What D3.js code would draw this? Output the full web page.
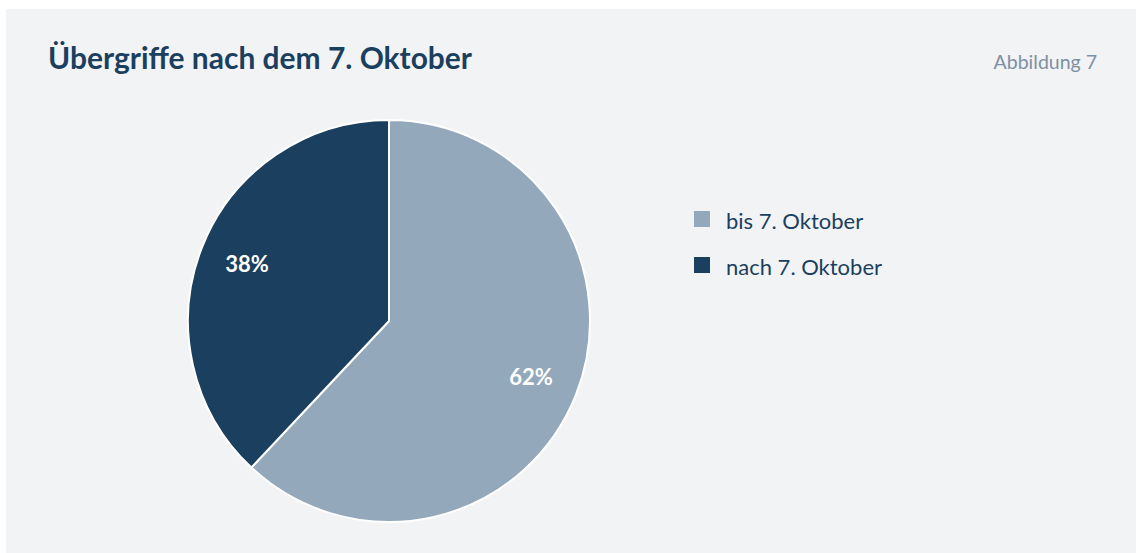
<!DOCTYPE html>
<html>
<head>
<meta charset="utf-8">
<script src="https://cdn.jsdelivr.net/npm/d3@7"></script>
<style>
  html, body { margin: 0; padding: 0; background: #ffffff; }
  svg { display: block; }
  text { font-family: "Source Sans Pro", Lato, "Noto Sans", sans-serif; }
</style>
</head>
<body>
<div id="chart"></div>
<script>
// data
const categories = ['bis 7. Oktober', 'nach 7. Oktober'];
const shares = [62, 38];
const colours = ['#93a8bb', '#1b3f5e'];

const title = 'Übergriffe nach dem 7. Oktober';
const figureLabel = 'Abbildung 7';

const width = 1136, height = 553;

const svg = d3.select('#chart').append('svg')
    .attr('width', width)
    .attr('height', height);

// panel background
svg.append('rect')
    .attr('x', 6).attr('y', 9)
    .attr('width', width - 6).attr('height', height - 9)
    .attr('fill', '#f2f3f5');

svg.append('text')
    .attr('x', 48).attr('y', 69)
    .attr('fill', '#1b3f5e')
    .attr('font-size', 30)
    .attr('font-weight', 700)
    .attr('textLength', 424)
    .attr('lengthAdjust', 'spacingAndGlyphs')
    .text(title);

svg.append('text')
    .attr('x', 1097).attr('y', 69)
    .attr('text-anchor', 'end')
    .attr('fill', '#7d90a3')
    .attr('font-size', 19.5)
    .text(figureLabel);

// pie
const cx = 389, cy = 321, radius = 201;
const data = categories.map((c, i) => ({ key: c, value: shares[i] }));

const colour = d3.scaleOrdinal().domain(categories).range(colours);

const pie = d3.pie().sort(null).value(d => d.value);
const arc = d3.arc().innerRadius(0).outerRadius(radius);
const labelArc = d3.arc().innerRadius(radius * 0.76).outerRadius(radius * 0.76);

const pieG = svg.append('g')
    .attr('transform', `translate(${cx},${cy})`);

const arcs = pie(data);

pieG.selectAll('path')
    .data(arcs)
    .join('path')
    .attr('d', arc)
    .attr('fill', d => colour(d.data.key))
    .attr('stroke', '#ffffff')
    .attr('stroke-width', 2)
    .attr('stroke-linejoin', 'round');

pieG.selectAll('.slice-label')
    .data(arcs)
    .join('text')
    .attr('class', 'slice-label')
    .attr('transform', d => `translate(${labelArc.centroid(d)})`)
    .attr('text-anchor', 'middle')
    .attr('dy', '0.35em')
    .attr('fill', '#ffffff')
    .attr('font-size', 22)
    .attr('font-weight', 700)
    .text(d => d.data.value + '%');

// legend
const legend = svg.append('g')
    .attr('transform', 'translate(694,211)');

const items = legend.selectAll('g')
    .data(categories)
    .join('g')
    .attr('transform', (d, i) => `translate(0,${i * 46})`);

items.append('rect')
    .attr('width', 16).attr('height', 16)
    .attr('fill', d => colour(d));

items.append('text')
    .attr('x', 32).attr('y', 18)
    .attr('fill', '#1b3f5e')
    .attr('font-size', 22)
    .text(d => d);
</script>
</body>
</html>
